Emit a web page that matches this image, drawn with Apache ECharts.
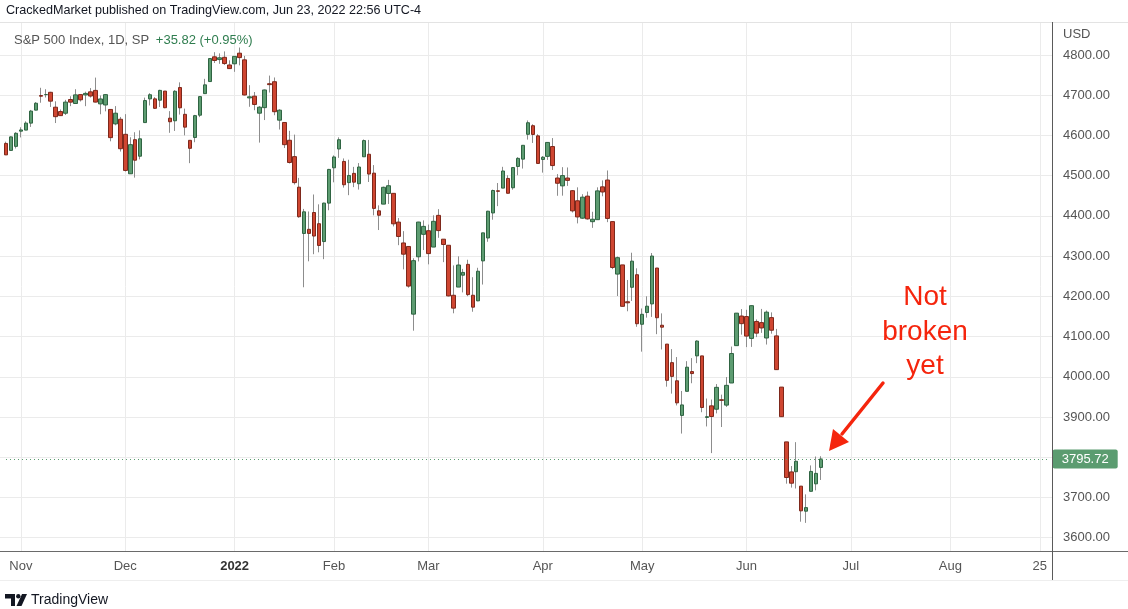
<!DOCTYPE html>
<html><head><meta charset="utf-8">
<script src="https://cdn.jsdelivr.net/npm/echarts@6/dist/echarts.min.js"></script>
<style>html,body{margin:0;padding:0;background:#fff;}#c{width:1128px;height:609px;}</style>
</head><body><div id="c"></div>
<script>
// ---- trading days ----
const dates = [
 '2021-10-27','2021-10-28','2021-10-29',
 '2021-11-01','2021-11-02','2021-11-03','2021-11-04','2021-11-05','2021-11-08','2021-11-09','2021-11-10','2021-11-11','2021-11-12','2021-11-15','2021-11-16','2021-11-17','2021-11-18','2021-11-19','2021-11-22','2021-11-23','2021-11-24','2021-11-26','2021-11-29','2021-11-30',
 '2021-12-01','2021-12-02','2021-12-03','2021-12-06','2021-12-07','2021-12-08','2021-12-09','2021-12-10','2021-12-13','2021-12-14','2021-12-15','2021-12-16','2021-12-17','2021-12-20','2021-12-21','2021-12-22','2021-12-23','2021-12-27','2021-12-28','2021-12-29','2021-12-30','2021-12-31',
 '2022-01-03','2022-01-04','2022-01-05','2022-01-06','2022-01-07','2022-01-10','2022-01-11','2022-01-12','2022-01-13','2022-01-14','2022-01-18','2022-01-19','2022-01-20','2022-01-21','2022-01-24','2022-01-25','2022-01-26','2022-01-27','2022-01-28','2022-01-31',
 '2022-02-01','2022-02-02','2022-02-03','2022-02-04','2022-02-07','2022-02-08','2022-02-09','2022-02-10','2022-02-11','2022-02-14','2022-02-15','2022-02-16','2022-02-17','2022-02-18','2022-02-22','2022-02-23','2022-02-24','2022-02-25','2022-02-28',
 '2022-03-01','2022-03-02','2022-03-03','2022-03-04','2022-03-07','2022-03-08','2022-03-09','2022-03-10','2022-03-11','2022-03-14','2022-03-15','2022-03-16','2022-03-17','2022-03-18','2022-03-21','2022-03-22','2022-03-23','2022-03-24','2022-03-25','2022-03-28','2022-03-29','2022-03-30','2022-03-31',
 '2022-04-01','2022-04-04','2022-04-05','2022-04-06','2022-04-07','2022-04-08','2022-04-11','2022-04-12','2022-04-13','2022-04-14','2022-04-18','2022-04-19','2022-04-20','2022-04-21','2022-04-22','2022-04-25','2022-04-26','2022-04-27','2022-04-28','2022-04-29',
 '2022-05-02','2022-05-03','2022-05-04','2022-05-05','2022-05-06','2022-05-09','2022-05-10','2022-05-11','2022-05-12','2022-05-13','2022-05-16','2022-05-17','2022-05-18','2022-05-19','2022-05-20','2022-05-23','2022-05-24','2022-05-25','2022-05-26','2022-05-27','2022-05-31',
 '2022-06-01','2022-06-02','2022-06-03','2022-06-06','2022-06-07','2022-06-08','2022-06-09','2022-06-10','2022-06-13','2022-06-14','2022-06-15','2022-06-16','2022-06-17','2022-06-21','2022-06-22','2022-06-23'
];
// empty future sessions shown to the right of the last bar
const futureDates = [
 '2022-06-24','2022-06-27','2022-06-28','2022-06-29','2022-06-30',
 '2022-07-01','2022-07-05','2022-07-06','2022-07-07','2022-07-08','2022-07-11','2022-07-12','2022-07-13','2022-07-14','2022-07-15','2022-07-18','2022-07-19','2022-07-20','2022-07-21','2022-07-22','2022-07-25','2022-07-26','2022-07-27','2022-07-28','2022-07-29',
 '2022-08-01','2022-08-02','2022-08-03','2022-08-04','2022-08-05','2022-08-08','2022-08-09','2022-08-10','2022-08-11','2022-08-12','2022-08-15','2022-08-16','2022-08-17','2022-08-18','2022-08-19','2022-08-22','2022-08-23','2022-08-24','2022-08-25','2022-08-26','2022-08-29'
];
const opens = [
 4580.22,4562.84,4572.87,
 4610.62,4613.34,4630.65,4662.93,4699.26,4701.48,4707.25,4670.26,4659.39,4655.24,4689.30,4679.42,4701.50,4700.72,4708.44,4712.00,4678.48,4675.78,4664.63,4628.75,4640.25,
 4602.82,4504.73,4589.49,4548.37,4631.97,4690.86,4691.00,4687.64,4710.30,4642.99,4636.46,4719.13,4652.50,4587.90,4594.96,4650.36,4703.96,4733.99,4795.49,4788.64,4794.23,4775.21,
 4778.14,4804.51,4787.99,4693.39,4697.66,4655.34,4669.14,4728.59,4733.56,4637.99,4632.24,4588.03,4547.35,4471.38,4356.32,4366.64,4408.43,4380.58,4336.19,4431.79,
 4519.57,4566.39,4535.41,4482.79,4505.75,4480.02,4547.00,4553.24,4506.27,4412.61,4429.28,4455.75,4456.06,4384.57,4332.74,4324.01,4155.77,4298.38,4354.17,
 4363.14,4322.56,4401.31,4342.12,4327.01,4202.66,4223.10,4252.55,4279.50,4202.75,4188.82,4288.14,4345.11,4407.34,4462.40,4469.10,4493.10,4469.98,4522.91,4541.09,4602.86,4624.20,4599.02,
 4540.32,4547.97,4572.45,4494.17,4474.65,4494.15,4462.64,4437.59,4394.30,4449.12,4385.63,4390.63,4472.26,4489.17,4385.83,4255.34,4278.14,4186.52,4222.58,4253.75,
 4130.61,4159.78,4181.18,4270.43,4128.17,4081.27,4035.18,3990.08,3903.95,3963.90,4013.02,4052.00,4051.98,3899.00,3927.76,3919.42,3942.94,3929.59,3984.60,4077.43,4151.09,
 4149.78,4095.41,4137.57,4134.72,4096.47,4147.12,4101.65,3974.39,3838.15,3763.52,3764.05,3728.18,3665.90,3715.31,3733.89,3774.71
];
const highs = [
 4584.57,4597.55,4608.08,
 4620.34,4635.15,4663.46,4683.00,4718.50,4714.92,4708.53,4684.85,4664.55,4688.47,4697.42,4714.95,4701.50,4708.80,4717.75,4743.83,4699.39,4702.87,4664.63,4672.95,4646.02,
 4652.94,4595.46,4608.03,4612.60,4694.04,4705.06,4695.26,4713.57,4710.30,4660.47,4712.60,4731.99,4666.70,4587.90,4651.14,4697.67,4740.74,4791.49,4807.02,4804.06,4808.93,4786.83,
 4796.64,4818.62,4797.70,4725.01,4707.95,4673.02,4714.13,4748.83,4744.13,4665.13,4632.24,4611.55,4602.11,4494.52,4417.35,4411.01,4453.23,4428.74,4432.72,4516.89,
 4550.49,4595.31,4542.88,4539.66,4521.86,4531.32,4590.03,4588.92,4526.33,4426.22,4472.77,4489.55,4456.06,4394.60,4362.12,4324.99,4294.73,4385.34,4388.84,
 4378.45,4401.48,4416.78,4342.12,4327.01,4276.94,4299.40,4268.28,4291.01,4247.57,4271.05,4357.86,4412.67,4465.40,4481.75,4522.00,4501.07,4520.58,4546.03,4575.65,4637.30,4627.77,4603.07,
 4548.70,4583.50,4593.45,4503.94,4521.16,4520.41,4464.35,4471.00,4453.92,4460.46,4410.31,4471.03,4488.29,4512.94,4385.83,4299.02,4278.14,4240.71,4308.45,4269.68,
 4169.81,4200.10,4307.66,4270.43,4157.69,4081.27,4068.82,4049.09,3964.80,4038.88,4046.46,4090.72,4051.98,3945.96,3943.42,3981.88,3955.68,3999.33,4075.14,4158.49,4168.34,
 4166.54,4177.51,4142.67,4168.78,4164.86,4160.14,4119.10,3974.39,3838.15,3778.18,3837.56,3728.18,3707.71,3779.65,3801.79,3802.58
];
const lows = [
 4551.66,4562.84,4567.59,
 4595.06,4613.34,4621.19,4662.59,4681.32,4694.39,4670.87,4630.86,4648.31,4650.77,4672.86,4679.42,4684.41,4672.78,4694.22,4682.17,4652.66,4659.89,4585.43,4625.26,4560.00,
 4510.27,4504.73,4495.12,4540.51,4631.97,4674.52,4665.98,4670.64,4667.60,4606.52,4611.22,4651.89,4600.22,4531.10,4583.16,4645.53,4703.96,4733.99,4780.04,4778.08,4775.33,4765.75,
 4758.17,4774.27,4699.44,4671.26,4662.74,4582.24,4638.27,4706.71,4650.29,4614.75,4568.70,4530.20,4477.95,4395.34,4222.62,4287.11,4304.80,4309.50,4292.46,4414.02,
 4483.53,4544.32,4470.39,4451.50,4471.47,4465.40,4547.00,4484.31,4401.41,4364.84,4429.28,4429.68,4373.81,4327.22,4267.11,4221.51,4114.65,4286.83,4315.12,
 4279.54,4322.56,4345.56,4284.98,4199.85,4157.87,4223.10,4209.80,4200.49,4161.72,4187.90,4229.34,4335.65,4390.57,4424.30,4469.10,4455.81,4465.17,4501.07,4517.69,4589.66,4581.32,4530.41,
 4507.57,4539.21,4514.17,4450.04,4450.30,4474.60,4408.38,4381.34,4392.70,4390.77,4370.30,4390.63,4448.76,4384.47,4267.62,4200.82,4175.04,4162.90,4188.63,4124.28,
 4062.51,4147.08,4148.91,4106.01,4067.91,3975.48,3958.17,3928.82,3858.87,3963.90,3983.99,4033.93,3911.91,3876.58,3810.32,3909.04,3875.13,3925.03,3984.60,4077.43,4104.88,
 4073.85,4074.37,4098.67,4109.18,4080.19,4107.20,4017.17,3900.16,3734.30,3724.55,3722.30,3639.77,3636.87,3715.31,3717.69,3743.52
];
const closes = [
 4551.68,4596.42,4605.38,
 4613.67,4630.65,4660.57,4680.06,4697.53,4701.70,4685.25,4646.71,4649.27,4682.85,4682.80,4700.90,4688.67,4704.54,4697.96,4682.94,4690.70,4701.46,4594.62,4655.27,4567.00,
 4513.04,4577.10,4538.43,4591.67,4686.75,4701.21,4667.45,4712.02,4668.97,4634.09,4709.85,4668.67,4620.64,4568.02,4649.23,4696.56,4725.79,4791.19,4786.35,4793.06,4778.73,4766.18,
 4796.56,4793.54,4700.58,4696.05,4677.03,4670.29,4713.07,4726.35,4659.03,4662.85,4577.11,4532.76,4482.73,4397.94,4410.13,4356.45,4349.93,4326.51,4431.85,4515.55,
 4546.54,4589.38,4477.44,4500.53,4483.87,4521.54,4587.18,4504.08,4418.64,4401.67,4471.07,4475.01,4380.26,4348.87,4304.76,4225.50,4288.70,4384.65,4373.94,
 4306.26,4386.54,4363.49,4328.87,4201.09,4170.70,4277.88,4259.52,4204.31,4173.11,4262.45,4357.86,4411.67,4463.12,4461.18,4511.61,4456.24,4520.16,4543.06,4575.52,4631.60,4602.45,4530.41,
 4545.86,4582.64,4525.12,4481.15,4500.21,4488.28,4412.53,4397.45,4446.59,4392.59,4391.69,4462.21,4459.45,4393.66,4271.78,4296.12,4175.20,4183.96,4287.50,4131.93,
 4155.38,4175.48,4300.17,4146.87,4123.34,3991.24,4001.05,3935.18,3930.08,4023.89,4008.01,4088.85,3923.68,3900.79,3901.36,3973.75,3941.48,3978.73,4057.84,4158.24,4132.15,
 4101.23,4176.82,4108.54,4121.43,4160.68,4115.77,4017.82,3900.86,3749.63,3735.48,3789.99,3666.77,3674.84,3764.79,3759.89,3795.72
];
// time-axis tick labels
const tickDates = ['2021-11-01','2021-12-01','2022-01-03','2022-02-01','2022-03-01','2022-04-01','2022-05-02','2022-06-01','2022-07-01','2022-08-01','2022-08-25'];
const tickLabels = ['Nov','Dec','2022','Feb','Mar','Apr','May','Jun','Jul','Aug','25'];
// price axis
const priceMin = 3600, priceMax = 4800, priceStep = 100;
const headerText = 'CrackedMarket published on TradingView.com, Jun 23, 2022 22:56 UTC-4';
const legendTitle = 'S&P 500 Index, 1D, SP';
const legendChange = '+35.82 (+0.95%)';
const noteLines = ['Not', 'broken', 'yet'];

// ---- build ----
const FONT = '"Liberation Sans", Arial, sans-serif';
const n = Math.min(dates.length, opens.length, highs.length, lows.length, closes.length);
const cats = dates.slice(0, n).concat(futureDates);
const full = [], bodies = [];
for (let i = 0; i < n; i++) {
  full.push([opens[i], closes[i], lows[i], highs[i]]);
  bodies.push([opens[i], closes[i], Math.min(opens[i], closes[i]), Math.max(opens[i], closes[i])]);
}
const lastClose = closes[n - 1];
const tickMap = {};
tickDates.forEach((d, i) => tickMap[d] = tickLabels[i]);
const isTick = (idx, v) => Object.prototype.hasOwnProperty.call(tickMap, v);

// layout: px per bar and price scale
const barStep = 4.97, firstX = 6, axisX = 1052;
const plotTop = 22, plotBottom = 551;
const yAt4800 = 55, yAt3600 = 537.7;
const pxPerPt = (yAt3600 - yAt4800) / (priceMax - priceMin);
const lastX = firstX + (cats.length - 1) * barStep;
const y0min = priceMin - (plotBottom - yAt3600) / pxPerPt;
const y0max = priceMax + (yAt4800 - plotTop) / pxPerPt;

const UP = '#5d9c71', UPB = '#2f6442', DN = '#cf4631', DNB = '#7e281b', WICK = '#8d8d8d';
const RED = '#f5250d';

const chart = echarts.init(document.getElementById('c'), null, {renderer: 'canvas'});
chart.setOption({
  animation: false,
  backgroundColor: '#ffffff',
  textStyle: {fontFamily: FONT},
  grid: [
    {left: firstX, right: 1128 - lastX, top: plotTop, bottom: 609 - plotBottom},
    {left: 0, right: 1128 - axisX, top: yAt4800, bottom: 609 - yAt3600}
  ],
  xAxis: [
    {gridIndex: 0, type: 'category', data: cats, boundaryGap: false,
     axisLine: {show: false}, axisTick: {show: false},
     axisLabel: {interval: isTick, margin: 9, color: '#555', fontSize: 13, fontFamily: FONT,
       formatter: v => v === '2022-01-03' ? '{b|' + tickMap[v] + '}' : tickMap[v],
       rich: {b: {fontWeight: 'bold', color: '#333', fontSize: 13, fontFamily: FONT}}},
     splitLine: {show: true, interval: isTick, lineStyle: {color: '#ebebeb', width: 1}}},
    {gridIndex: 1, type: 'value', show: false, min: 0, max: 1}
  ],
  yAxis: [
    {gridIndex: 0, type: 'value', min: y0min, max: y0max, show: false, splitLine: {show: false}},
    {gridIndex: 1, type: 'value', position: 'right', min: priceMin, max: priceMax, interval: priceStep,
     axisLine: {show: false}, axisTick: {show: false},
     axisLabel: {margin: 11, color: '#555', fontSize: 13, fontFamily: FONT, formatter: v => v.toFixed(2)},
     splitLine: {show: true, lineStyle: {color: '#ebebeb', width: 1}}}
  ],
  series: [
    {type: 'candlestick', name: 'wick', xAxisIndex: 0, yAxisIndex: 0, data: full, barWidth: 1, clip: false, silent: true,
     itemStyle: {color: WICK, color0: WICK, borderColor: WICK, borderColor0: WICK, borderWidth: 1}},
    {type: 'candlestick', name: 'body', xAxisIndex: 0, yAxisIndex: 0, data: bodies, barWidth: 4, clip: false, silent: true,
     itemStyle: {color: UP, color0: DN, borderColor: UPB, borderColor0: DNB, borderWidth: 1},
     markLine: {silent: true, symbol: ['none', 'none'], animation: false,
       data: [{yAxis: lastClose}],
       lineStyle: {type: [1, 3], color: '#5b9c70', width: 1},
       label: {show: true, position: 'end', distance: 3, formatter: lastClose.toFixed(2),
         backgroundColor: '#5b9c70', color: '#fff', fontSize: 13, fontFamily: FONT,
         padding: [3, 9, 3, 9], borderRadius: 2}}}
  ],
  graphic: [
    {type: 'line', shape: {x1: 0, y1: 22.5, x2: 1128, y2: 22.5}, style: {stroke: '#e3e3e3', lineWidth: 1}, z: 50},
    {type: 'line', shape: {x1: 0, y1: 551.5, x2: 1128, y2: 551.5}, style: {stroke: '#6a6a6a', lineWidth: 1}, z: 50},
    {type: 'line', shape: {x1: 0, y1: 580.5, x2: 1128, y2: 580.5}, style: {stroke: '#eeeeee', lineWidth: 1}, z: 50},
    {type: 'line', shape: {x1: axisX + 0.5, y1: 22, x2: axisX + 0.5, y2: 580}, style: {stroke: '#5a5a5a', lineWidth: 1}, z: 50},
    {type: 'text', x: 6, y: 11, z: 50, style: {text: headerText, fontSize: 12.6, fontFamily: FONT, fill: '#131722', verticalAlign: 'middle'}},
    {type: 'text', x: 14, y: 40.5, z: 50, style: {text: '{a|' + legendTitle + '}  {b|' + legendChange + '}', verticalAlign: 'middle',
      rich: {a: {fontSize: 13, fontFamily: FONT, fill: '#555', color: '#555'}, b: {fontSize: 13, fontFamily: FONT, fill: '#2f7d4f', color: '#2f7d4f'}}}},
    {type: 'text', x: 1063, y: 34, z: 50, style: {text: 'USD', fontSize: 13, fontFamily: FONT, fill: '#555', verticalAlign: 'middle'}},
    {type: 'text', x: 925, y: 297, z: 60, style: {text: noteLines[0], fontSize: 28, fontFamily: FONT, fill: RED, align: 'center', verticalAlign: 'middle'}},
    {type: 'text', x: 925, y: 332, z: 60, style: {text: noteLines[1], fontSize: 28, fontFamily: FONT, fill: RED, align: 'center', verticalAlign: 'middle'}},
    {type: 'text', x: 925, y: 366, z: 60, style: {text: noteLines[2], fontSize: 28, fontFamily: FONT, fill: RED, align: 'center', verticalAlign: 'middle'}},
    {type: 'line', shape: {x1: 883, y1: 383, x2: 842, y2: 434}, style: {stroke: RED, lineWidth: 3.5, lineCap: 'round'}, z: 60},
    {type: 'polygon', shape: {points: [[829, 451], [833, 429], [849, 442]]}, style: {fill: RED}, z: 60},
    // TradingView logo
    {type: 'polygon', shape: {points: [[5, 594], [15, 594], [15, 606], [11, 606], [11, 598.5], [5, 598.5]]}, style: {fill: '#131722'}, z: 50},
    {type: 'circle', shape: {cx: 18.3, cy: 596.3, r: 2.2}, style: {fill: '#131722'}, z: 50},
    {type: 'polygon', shape: {points: [[22, 594], [27, 594], [21.5, 606], [16.5, 606]]}, style: {fill: '#131722'}, z: 50},
    {type: 'text', x: 31, y: 600, z: 50, style: {text: 'TradingView', fontSize: 14, fontFamily: FONT, fill: '#131722', verticalAlign: 'middle'}}
  ]
});
</script>
</body></html>
